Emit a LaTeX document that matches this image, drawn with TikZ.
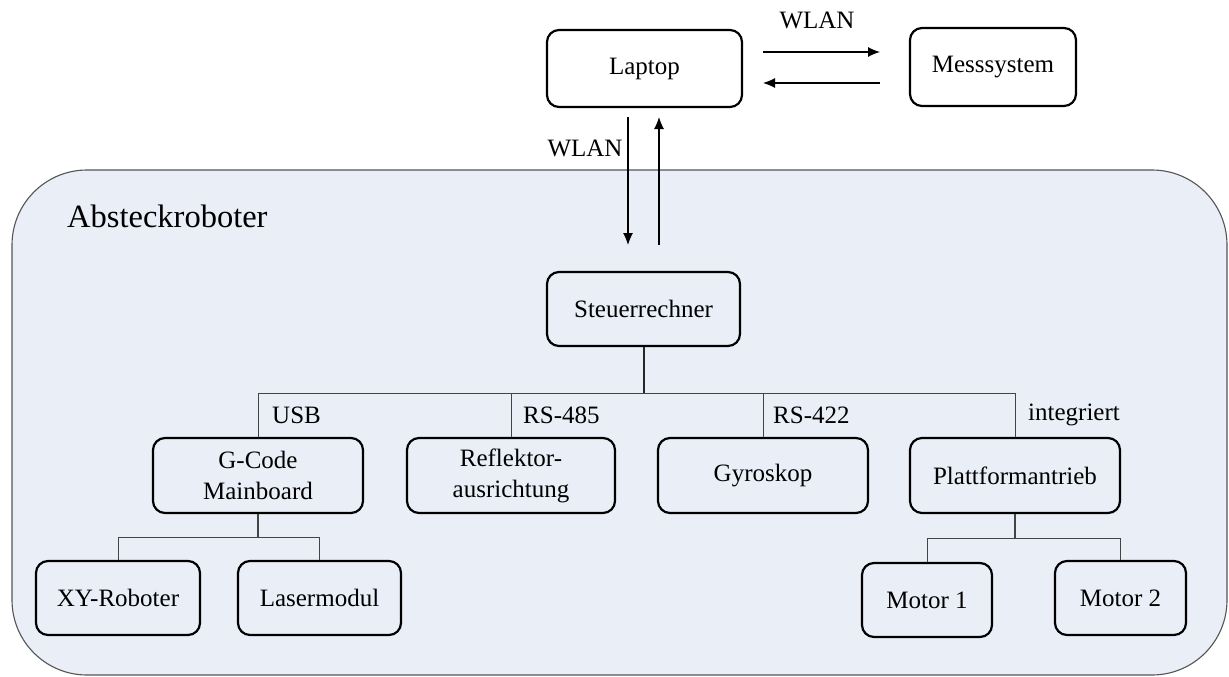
\documentclass[tikz,border=0pt]{standalone}
\usepackage{fontspec}
\setmainfont{Liberation Serif}
\usetikzlibrary{arrows.meta}
\definecolor{robfill}{HTML}{E9EEF7}
\definecolor{robline}{HTML}{555555}
\definecolor{connline}{HTML}{444444}
\tikzset{
  box/.style={draw=black, line width=2.2pt, rounded corners=12pt, fill=robfill,
    inner sep=0pt, align=center, font=\rmfamily\fontsize{25}{31}\selectfont},
  topbox/.style={box, fill=white},
  conn/.style={draw=connline, line width=1pt},
  trunk/.style={draw=black!85, line width=2pt},
  arr/.style={draw=black, line width=1.1pt, -{Latex[length=12pt,width=10pt]}},
  lbl/.style={inner sep=0pt, font=\rmfamily\fontsize{25}{30}\selectfont},
}
\begin{document}
\begin{tikzpicture}[x=1pt,y=-1pt]
\useasboundingbox (0,0) rectangle (1229,677);
% robot area
\draw[draw=robline, line width=1.1pt, fill=robfill, rounded corners=75pt] (12,170) rectangle (1227,675);
\node[lbl, anchor=west, font=\rmfamily\fontsize{32.5}{38}\selectfont] (rob) at (67,216) {Absteckroboter};

% top boxes
\node[topbox, minimum width=195pt, minimum height=77pt] (laptop) at (644.5,68.5) {Laptop};
\node[topbox, minimum width=166pt, minimum height=78pt] (mess) at (993,67) {Messsystem};

% inner boxes
\node[box, minimum width=193pt, minimum height=74pt] (steuer) at (643.5,309) {Steuerrechner};
\node[box, minimum width=210pt, minimum height=75pt] (gcode) at (258,475.5) {G-Code\\Mainboard};
\node[box, minimum width=208pt, minimum height=75pt] (refl) at (511,475.5) {Reflektor-\\ausrichtung};
\node[box, minimum width=210pt, minimum height=75pt] (gyro) at (763,475.5) {Gyroskop};
\node[box, minimum width=210pt, minimum height=75pt] (platt) at (1015,475.5) {Plattformantrieb};
\node[box, minimum width=164pt, minimum height=74pt] (xy) at (118,598) {XY-Roboter};
\node[box, minimum width=163pt, minimum height=74pt] (laser) at (319.5,598) {Lasermodul};
\node[box, minimum width=130pt, minimum height=74pt] (m1) at (927,600) {Motor 1};
\node[box, minimum width=131pt, minimum height=74pt] (m2) at (1120.5,598) {Motor 2};

% WLAN arrows
\coordinate (r1) at (763,52);
\coordinate (r2) at (880,52);
\coordinate (l1) at (880,83);
\coordinate (l2) at (763,83);
\draw[arr] (r1) -- (r2);
\draw[arr] (l1) -- (l2);
\node[lbl] (wlantop) at (817,20) {WLAN};
\coordinate (d1) at (628,117);
\coordinate (d2) at (628,245);
\coordinate (u1) at (659,245);
\coordinate (u2) at (659,117);
\draw[arr] (d1) -- (d2);
\draw[arr] (u1) -- (u2);
\node[lbl] (wlanleft) at (585,148) {WLAN};

% bus
\coordinate (bus) at (0,393);
\coordinate (gbus) at (0,537);
\coordinate (pbus) at (0,538);
\draw[trunk] (steuer.south) -- (steuer.south |- bus);
\draw[conn] (steuer.south |- bus) -| (gcode.north);
\draw[conn] (steuer.south |- bus) -| (refl.north);
\draw[conn] (steuer.south |- bus) -| (gyro.north);
\draw[conn] (steuer.south |- bus) -| (platt.north);
\node[lbl, anchor=west] (usb) at (272,415) {USB};
\node[lbl, anchor=west] (rs485) at (523,415) {RS-485};
\node[lbl, anchor=west] (rs422) at (773,415) {RS-422};
\node[lbl, anchor=west] (integ) at (1028,415) {integriert};

% sub buses
\draw[conn, line width=1.5pt] (gcode.south) -- (gcode.south |- gbus);
\draw[conn] (gcode.south |- gbus) -| (xy.north);
\draw[conn] (gcode.south |- gbus) -| (laser.north);
\draw[conn, line width=1.5pt] (platt.south) -- (platt.south |- pbus);
\draw[conn] (platt.south |- pbus) -| (m1.north);
\draw[conn] (platt.south |- pbus) -| (m2.north);
\end{tikzpicture}
\end{document}
